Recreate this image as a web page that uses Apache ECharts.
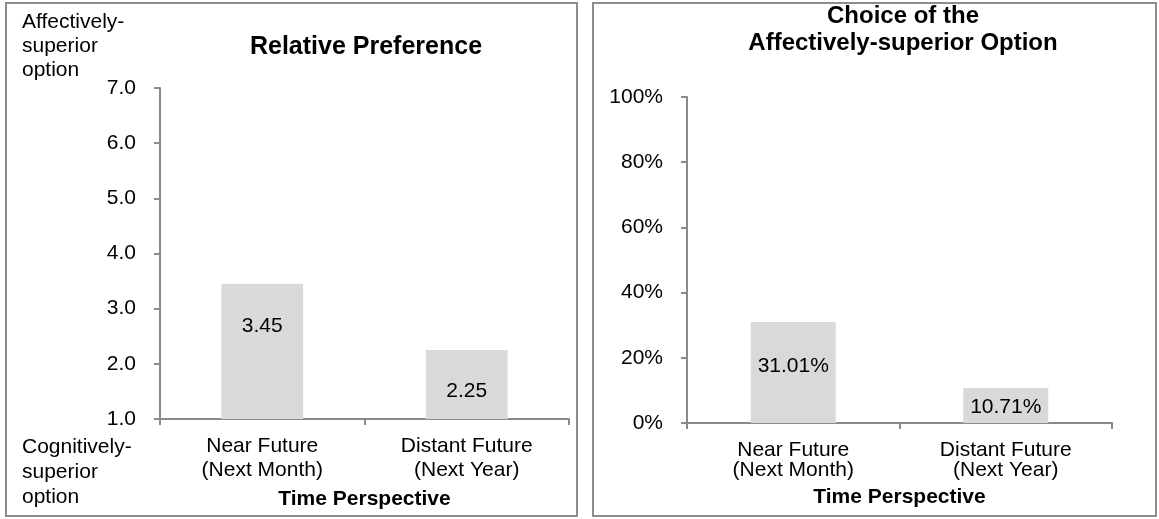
<!DOCTYPE html>
<html lang="en">
	<head>
		<meta charset="utf-8">
		<title>Relative Preference / Choice</title>
		<script src="https://cdn.jsdelivr.net/npm/echarts@6/dist/echarts.min.js"></script>
		<style>
			html, body { margin: 0; padding: 0; background: #fff; }
			#chart { width: 1159px; height: 519px; }
		</style>
	</head>
	<body>
		<div id="chart"></div>
		<script type="text/javascript">
			// categories (x axis)
			var categories = ['Near Future\n(Next Month)', 'Distant Future\n(Next Year)'];
			// left panel: relative preference (scale 1-7)
			var prefValues = [3.45, 2.25];
			var prefTicks = ['1.0', '2.0', '3.0', '4.0', '5.0', '6.0', '7.0'];
			// right panel: % choosing the affectively-superior option
			var choiceValues = [31.01, 10.71];
			var choiceTicks = ['0%', '20%', '40%', '60%', '80%', '100%'];

			var FONT = '"Liberation Sans", Arial, sans-serif';
			var FS = 21;
			var AXIS_GRAY = '#8a8a8a';
			var BAR_GRAY = '#d9d9d9';

			var chart = echarts.init(document.getElementById('chart'));

			function catAxis(gridIndex, lineH, margin, nameGap) {
				return {
					type: 'category',
					gridIndex: gridIndex,
					data: categories,
					axisLine: { lineStyle: { color: AXIS_GRAY, width: 2 } },
					axisTick: { show: true, length: 6, lineStyle: { color: AXIS_GRAY, width: 2 } },
					axisLabel: { color: '#000', fontFamily: FONT, fontSize: FS, lineHeight: lineH, margin: margin },
					name: 'Time Perspective',
					nameLocation: 'middle',
					nameGap: nameGap,
					nameTextStyle: { color: '#000', fontFamily: FONT, fontSize: FS, fontWeight: 'bold' }
				};
			}

			function valAxis(gridIndex, min, max, interval, ticks) {
				return {
					type: 'value',
					gridIndex: gridIndex,
					min: min,
					max: max,
					interval: interval,
					splitLine: { show: false },
					axisLine: { show: true, lineStyle: { color: AXIS_GRAY, width: 2 } },
					axisTick: { show: true, length: 6, lineStyle: { color: AXIS_GRAY, width: 2 } },
					axisLabel: {
						color: '#000', fontFamily: FONT, fontSize: FS, margin: 24,
						formatter: function (v) { return ticks[Math.round((v - min) / interval)]; }
					}
				};
			}

			// label offsets below each bar top
			var prefLabelDist = [32, 31];
			var choiceLabelDist = [34, 9];

			var option = {
				animation: false,
				grid: [
					{ left: 160, top: 88, width: 409, height: 331 },
					{ left: 687, top: 97, width: 425, height: 326 }
				],
				xAxis: [
					catAxis(0, 24, 15, 70),
					catAxis(1, 20, 17, 64)
				],
				yAxis: [
					valAxis(0, 1, 7, 1, prefTicks),
					valAxis(1, 0, 100, 20, choiceTicks)
				],
				graphic: [
					{ type: 'rect', shape: { x: 6, y: 3, width: 571, height: 513 }, style: { fill: 'none', stroke: '#8c8c8c', lineWidth: 2 } },
					{ type: 'rect', shape: { x: 593, y: 3, width: 563, height: 513 }, style: { fill: 'none', stroke: '#8c8c8c', lineWidth: 2 } },
					{ type: 'text', x: 22, y: 10, style: { text: 'Affectively-\nsuperior\noption', font: FS + 'px ' + FONT, lineHeight: 24, fill: '#000' } },
					{ type: 'text', x: 22, y: 435, style: { text: 'Cognitively-\nsuperior\noption', font: FS + 'px ' + FONT, lineHeight: 25, fill: '#000' } },
					{ type: 'text', x: 366, y: 47, style: { text: 'Relative Preference', font: 'bold 25px ' + FONT, fill: '#000', align: 'center', verticalAlign: 'middle' } },
					{ type: 'text', x: 903, y: 30, style: { text: 'Choice of the\nAffectively-superior Option', font: 'bold 24px ' + FONT, lineHeight: 27, fill: '#000', align: 'center', verticalAlign: 'middle' } }
				],
				series: [
					{
						type: 'bar',
						xAxisIndex: 0,
						yAxisIndex: 0,
						barWidth: '40%',
						itemStyle: { color: BAR_GRAY },
						data: prefValues.map(function (v, i) {
							return { value: v, label: { distance: prefLabelDist[i] } };
						}),
						label: {
							show: true, position: 'insideTop', color: '#000', fontFamily: FONT, fontSize: FS,
							formatter: function (p) { return p.value.toFixed(2); }
						}
					},
					{
						type: 'bar',
						xAxisIndex: 1,
						yAxisIndex: 1,
						barWidth: '40%',
						itemStyle: { color: BAR_GRAY },
						data: choiceValues.map(function (v, i) {
							return { value: v, label: { distance: choiceLabelDist[i] } };
						}),
						label: {
							show: true, position: 'insideTop', color: '#000', fontFamily: FONT, fontSize: FS,
							formatter: function (p) { return p.value.toFixed(2) + '%'; }
						}
					}
				]
			};
			chart.setOption(option);
		</script>
	</body>
</html>
